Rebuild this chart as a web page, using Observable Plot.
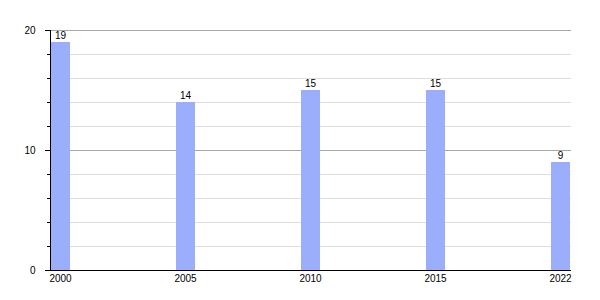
<!DOCTYPE html>
<html>
<head>
<meta charset="utf-8">
<script src="https://cdn.jsdelivr.net/npm/d3@7"></script>
<script src="https://cdn.jsdelivr.net/npm/@observablehq/plot@0.6"></script>
<style>
  body { margin: 0; background: #fff; }
  svg { font-family: "Liberation Sans", Arial, sans-serif; }
</style>
</head>
<body>
<div id="chart"></div>
<script>
const years = ["2000", "2005", "2010", "2015", "2022"];
const values = [19, 14, 15, 15, 9];
const majorTicks = [0, 10, 20];
const minorTicks = [2, 4, 6, 8, 12, 14, 16, 18];

const data = years.map((y, i) => ({year: y, value: values[i]}));

const chart = Plot.plot({
  width: 600,
  height: 300,
  marginLeft: 50,
  marginRight: 29,
  marginTop: 30,
  marginBottom: 30,
  style: {fontFamily: "Liberation Sans, Arial, sans-serif", fontSize: "10px", background: "#fff"},
  x: {type: "band", domain: years, paddingInner: 0.84, paddingOuter: 0, align: 0},
  y: {domain: [0, 20]},
  marks: [
    Plot.gridY(minorTicks, {stroke: "#dedede", strokeOpacity: 1}),
    Plot.gridY([10, 20], {stroke: "#a8a8a8", strokeOpacity: 1}),
    Plot.barY(data, {x: "year", y: "value", fill: "#9aaefc", insetLeft: 1, insetRight: 0}),
    Plot.text(data, {x: "year", y: "value", text: d => String(d.value), dy: -4, lineAnchor: "bottom", fill: "#000", fontSize: 10}),
    Plot.axisY(minorTicks, {tickSize: 3, text: null, label: null, stroke: "#000"}),
    Plot.axisY(majorTicks, {tickSize: 5, tickPadding: 10, label: null, stroke: "#000", fill: "#000", fontSize: 10}),
    Plot.axisX({tickSize: 0, tickPadding: 4, label: null, fill: "#000", fontSize: 10}),
    Plot.frame({anchor: "left", stroke: "#000"}),
    Plot.ruleY([0], {stroke: "#000"})
  ]
});
document.getElementById("chart").appendChild(chart);
</script>
</body>
</html>
